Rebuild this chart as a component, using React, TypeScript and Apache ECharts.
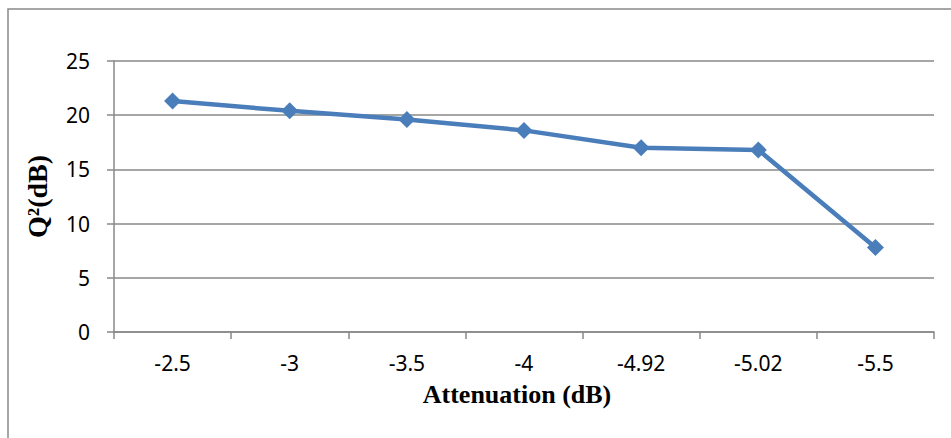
import React, { useEffect, useRef } from "react";
import * as echarts from "echarts";

const categories = ["-2.5", "-3", "-3.5", "-4", "-4.92", "-5.02", "-5.5"];
const qValues = [21.3, 20.4, 19.6, 18.6, 17.0, 16.8, 7.8];
const yTicks = { min: 0, max: 25, interval: 5 };

export default function App() {
  const ref = useRef<HTMLDivElement>(null);
  useEffect(() => {
    if (!ref.current) return;
    const chart = echarts.init(ref.current, null, { renderer: "svg" });
    const gray = "#898989";
    chart.setOption({
      animation: false,
      backgroundColor: "#ffffff",
      grid: { left: 114, right: 17, top: 61, bottom: 106 },
      graphic: [
        {
          type: "polyline",
          shape: { points: [[8, 438], [8, 9], [951, 9]] },
          style: { stroke: gray, lineWidth: 1.5, fill: "none" },
        },
      ],
      xAxis: {
        type: "category",
        data: categories,
        boundaryGap: true,
        axisLine: { lineStyle: { color: gray, width: 1.5 } },
        axisTick: { show: true, length: 7, alignWithLabel: false, lineStyle: { color: gray, width: 1.5 } },
        axisLabel: { color: "#000", fontSize: 21, fontFamily: "Noto Sans", margin: 20 },
        name: "Attenuation (dB)",
        nameLocation: "middle",
        nameGap: 49,
        nameTextStyle: {
          color: "#000",
          fontSize: 26,
          fontWeight: "bold",
          fontFamily: "Liberation Serif",
          padding: [0, 14, 0, 0],
        },
      },
      yAxis: {
        type: "value",
        min: yTicks.min,
        max: yTicks.max,
        interval: yTicks.interval,
        axisLine: { show: true, lineStyle: { color: gray, width: 1.5 } },
        axisTick: { show: true, length: 7, lineStyle: { color: gray, width: 1.5 } },
        splitLine: { show: true, lineStyle: { color: gray, width: 1.5 } },
        axisLabel: { color: "#000", fontSize: 21, fontFamily: "Noto Sans", margin: 24 },
        name: "Q²(dB)",
        nameLocation: "middle",
        nameGap: 63,
        nameTextStyle: { color: "#000", fontSize: 28, fontWeight: "bold", fontFamily: "Liberation Serif" },
      },
      series: [
        {
          type: "line",
          data: qValues,
          symbol: "diamond",
          symbolSize: 17,
          itemStyle: { color: "#4a7ebb" },
          lineStyle: { color: "#4a7ebb", width: 4.5 },
        },
      ],
    });
    return () => chart.dispose();
  }, []);
  return (
    <div
      ref={ref}
      style={{ position: "fixed", left: 0, top: 0, width: 951, height: 438 }}
    />
  );
}
